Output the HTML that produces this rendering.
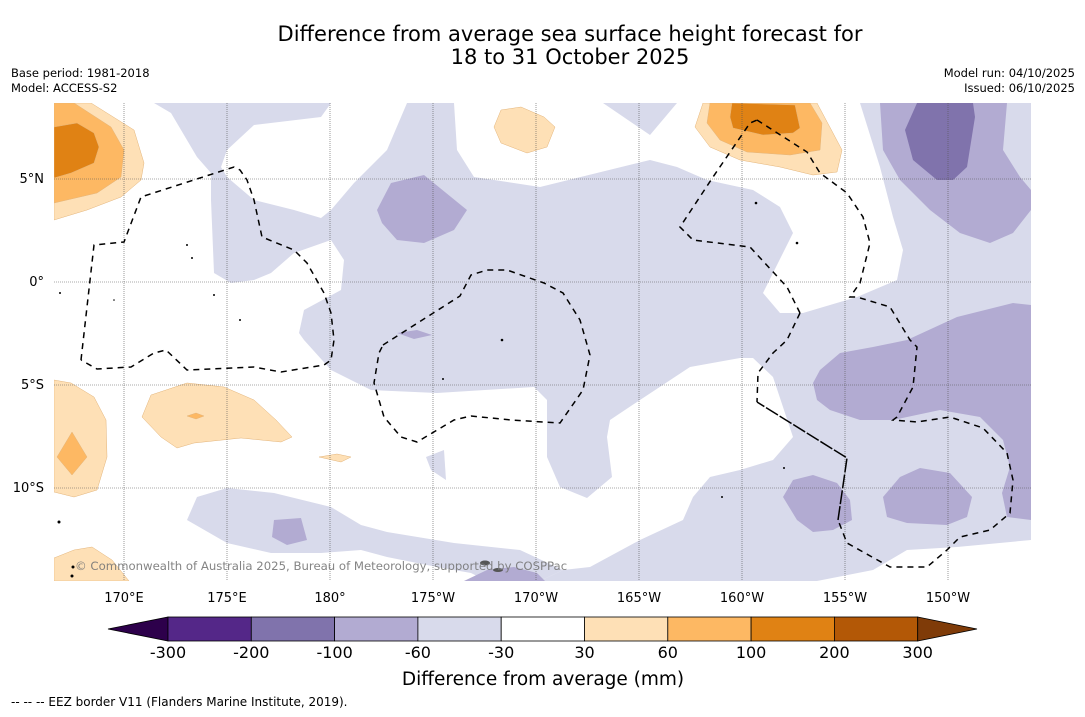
<!DOCTYPE html>
<html><head><meta charset="utf-8">
<style>
html,body{margin:0;padding:0;background:#fff;}
body{width:1085px;height:713px;overflow:hidden;font-family:"DejaVu Sans","Liberation Sans",sans-serif;}
svg text{font-family:"DejaVu Sans","Liberation Sans",sans-serif;}
</style></head>
<body>
<svg id="chart" width="1085" height="713" viewBox="0 0 1085 713" xmlns="http://www.w3.org/2000/svg">
<rect width="1085" height="713" fill="#fff"/>
<text x="570" y="41" font-size="21" text-anchor="middle" fill="#000">Difference from average sea surface height forecast for</text>
<text x="570" y="64" font-size="21" text-anchor="middle" fill="#000">18 to 31 October 2025</text>
<text x="11" y="77" font-size="11.5">Base period: 1981-2018</text>
<text x="11" y="92" font-size="11.5">Model: ACCESS-S2</text>
<text x="1075" y="77" font-size="11.5" text-anchor="end">Model run: 04/10/2025</text>
<text x="1075" y="92" font-size="11.5" text-anchor="end">Issued: 06/10/2025</text>

<defs><clipPath id="mapclip"><rect x="54" y="103" width="977" height="478"/></clipPath></defs>
<g clip-path="url(#mapclip)">
<rect x="54" y="103" width="977" height="478" fill="#d8daeb"/>
<g fill="#fff">
<polygon points="54,103 154,103 171,113 197,157 211,173 211,200 214,273 231,283 254,280 271,273 294,253 331,240 344,260 341,290 304,310 299,333 304,340 331,370 371,390 437,393 534,387 547,400 547,457 560,487 587,498 612,477 607,437 610,420 640,400 690,367 740,358 753,358 773,377 793,437 773,460 740,470 710,477 693,497 683,520 640,540 590,567 563,570 540,581 54,581"/>
<polygon points="321,117 331,103 407,103 387,150 354,183 331,210 321,218 294,210 254,200 227,177 221,167 227,150 254,125"/>
<polygon points="454,103 603,103 650,135 677,103 860,103 880,167 893,217 903,250 897,280 857,297 803,313 780,313 763,293 773,273 793,233 780,207 753,190 707,180 677,167 650,160 540,187 474,177 457,150"/>
<polygon points="817,581 873,570 907,550 957,547 1031,540 1031,581"/>
</g>
<g fill="#d8daeb">
<polygon points="187,520 197,497 227,488 274,493 331,507 361,525 387,532 454,543 520,550 563,570 540,581 487,581 471,573 437,567 387,557 361,550 321,553 271,553 227,543"/>
<polygon points="426,457 444,450 446,480 431,470"/>
</g>
<g fill="#b2abd2">
<polygon points="377,210 391,183 424,175 467,210 454,230 424,243 397,240 382,223"/>
<polygon points="397,333 417,330 432,335 414,339"/>
<polygon points="274,520 301,518 307,540 287,545 272,537"/>
<polygon points="464,581 487,570 514,567 537,573 545,581"/>
<polygon points="880,103 1007,103 1003,150 1020,177 1031,190 1031,210 1013,233 990,243 960,233 930,210 900,180 883,150"/>
<polygon points="813,383 820,370 840,353 873,347 907,340 957,317 1013,303 1031,305 1031,520 1007,517 1002,493 1010,467 1003,440 980,417 940,410 893,420 860,420 830,410 817,400"/>
<polygon points="783,497 793,480 813,475 837,483 850,500 852,520 833,530 813,532 797,520"/>
<polygon points="883,497 900,477 920,468 950,473 972,497 967,517 947,525 907,523 887,517"/>
</g>
<polygon fill="#8073ac" points="917,103 973,103 975,117 967,167 953,180 937,180 913,160 905,130"/>
<g stroke="#e3b47a" stroke-width="0.5">
<polygon fill="#fee0b6" points="54,103 91,103 134,130 144,163 141,180 121,197 87,210 54,220"/>
<polygon fill="#fdb863" points="54,103 74,103 111,127 124,150 121,177 97,193 54,203"/>
<polygon fill="#e08214" points="54,127 77,123 94,133 99,147 94,163 71,173 54,178"/>
<polygon fill="#fee0b6" points="494,127 501,110 521,107 544,117 555,127 547,147 527,153 501,143"/>
<polygon fill="#fee0b6" points="703,103 817,103 833,133 842,150 837,172 813,175 780,167 740,160 710,147 695,127"/>
<polygon fill="#fdb863" points="710,103 810,103 822,123 820,150 790,155 747,152 720,140 707,123"/>
<polygon fill="#e08214" points="732,103 795,105 800,128 793,133 763,135 733,128 730,117"/>
<polygon fill="#fee0b6" points="54,380 71,383 94,397 106,420 107,457 97,490 74,497 54,492"/>
<polygon fill="#fdb863" points="72,432 87,457 72,475 57,457"/>
<polygon fill="#fee0b6" points="142,417 151,395 187,383 224,387 254,400 276,420 292,437 281,442 241,438 194,443 177,448 161,437"/>
<polygon fill="#fdb863" points="187,416 196,413 204,416 196,419"/>
<polygon fill="#fee0b6" points="319,457 337,454 351,457 341,462"/>
<polygon fill="#fee0b6" points="54,558 74,550 92,547 112,560 129,581 54,581"/>
</g>
<g id="grid" stroke="#555" stroke-width="0.6" stroke-dasharray="1,1"></g>
<g fill="none" stroke="#000" stroke-width="1.5" stroke-dasharray="6,5">
<polyline points="81,360 94,245 124,242 141,197 234,167 240,170 247,180 254,200 262,237 294,250 307,263 324,293 331,313 334,340 331,360 324,365 281,372 254,367 187,370 166,350 154,353 131,367 97,369 81,360"/>
<polyline points="383,345 460,296 471,275 487,270 507,270 544,283 563,293 580,320 590,355 583,390 560,423 511,420 471,416 454,420 417,442 401,437 384,417 374,383 379,353 383,345"/>
<polyline points="757,120 807,152 820,173 847,193 863,217 870,243 860,283 850,297 857,297 890,307 910,340 917,347 913,387 897,417 893,420 917,422 950,417 983,428 1007,453 1013,480 1010,513 990,530 960,537 947,550 927,567 890,567 847,543 838,520"/>
<polyline points="800,313 787,340 773,353 758,373 757,402"/>
<polyline points="800,313 787,287 750,247 693,240 680,227 713,177 750,123 757,120"/>
<polyline points="838,520 847,458 757,402" stroke-dasharray="14,2"/>
</g>
<g fill="#000">
<circle cx="60" cy="293" r="1"/><circle cx="114" cy="300" r="0.8"/><circle cx="187" cy="245" r="1"/><circle cx="192" cy="258" r="1"/><circle cx="214" cy="295" r="1"/><circle cx="240" cy="320" r="1"/><circle cx="502" cy="340" r="1.3"/><circle cx="443" cy="379" r="1"/><circle cx="756" cy="203" r="1.3"/><circle cx="797" cy="243" r="1.3"/><circle cx="59" cy="522" r="1.5"/><circle cx="73" cy="567" r="1.5"/><circle cx="72" cy="576" r="1.5"/><circle cx="722" cy="497" r="1"/><circle cx="784" cy="468" r="1"/>
<ellipse cx="485" cy="563" rx="5" ry="2.5" fill="#555"/><ellipse cx="498" cy="570" rx="5" ry="2" fill="#555"/>
</g>
<text x="75" y="570" font-size="11.7" fill="#777" opacity="0.9">© Commonwealth of Australia 2025, Bureau of Meteorology, supported by COSPPac</text>
</g>
<g id="axes"></g>
<g id="colorbar"></g>
<text x="543" y="685" font-size="18.5" text-anchor="middle">Difference from average (mm)</text>
<text x="11" y="706" font-size="12">--  --  -- EEZ border V11 (Flanders Marine Institute, 2019).</text>
</svg>
<script>
const lonLabels = ["170°E","175°E","180°","175°W","170°W","165°W","160°W","155°W","150°W"];
const lonValues = [170,175,180,185,190,195,200,205,210];
const latLabels = ["5°N","0°","5°S","10°S"];
const latValues = [5,0,-5,-10];
const cbBounds = [-300,-200,-100,-60,-30,30,60,100,200,300];
const cbColors = ["#542788","#8073ac","#b2abd2","#d8daeb","#ffffff","#fee0b6","#fdb863","#e08214","#b35806"];
const cbExtendColors = ["#2d004b","#7f3b08"];

const NS="http://www.w3.org/2000/svg";
function xLon(l){return 124+(l-170)*20.6;}
function yLat(v){return 282-v*20.6;}
function mk(tag,attrs,parent){const e=document.createElementNS(NS,tag);for(const k in attrs)e.setAttribute(k,attrs[k]);parent.appendChild(e);return e;}
const grid=document.getElementById('grid');
const axes=document.getElementById('axes');
lonValues.forEach((v,i)=>{
  const ln=mk('line',{x1:xLon(v),x2:xLon(v),y1:103,y2:581},grid);
  
  
  const t=mk('text',{x:xLon(v),y:602,'font-size':13,'text-anchor':'middle'},axes);
  t.textContent=lonLabels[i];
  
  
});
latValues.forEach((v,i)=>{
  const ln=mk('line',{x1:54,x2:1031,y1:yLat(v),y2:yLat(v)},grid);
  
  
  const t=mk('text',{x:44,y:yLat(v)+4,'font-size':13,'text-anchor':'end'},axes);
  t.textContent=latLabels[i];
  
  
});
const cb=document.getElementById('colorbar');
const cbX0=168, cbW=83.3, cbY=617, cbH=24;
function cbX(i){return cbX0+i*cbW;}
const lt=mk('polygon',{points:`108,${cbY+cbH/2} ${cbX0},${cbY} ${cbX0},${cbY+cbH}`,fill:cbExtendColors[0],stroke:'#000','stroke-width':0.8},cb);


cbColors.forEach((c,i)=>{
  const r=mk('rect',{x:cbX(i),y:cbY,width:cbW,height:cbH,fill:c,stroke:'#000','stroke-width':0.8},cb);
  
  
});
const rt=mk('polygon',{points:`${cbX(cbColors.length)},${cbY} 977,${cbY+cbH/2} ${cbX(cbColors.length)},${cbY+cbH}`,fill:cbExtendColors[1],stroke:'#000','stroke-width':0.8},cb);


cbBounds.forEach((b,i)=>{
  const t=mk('text',{x:cbX(i),y:658,'font-size':16,'text-anchor':'middle'},cb);
  t.textContent=String(b);
  
  
});
</script>
</body></html>
